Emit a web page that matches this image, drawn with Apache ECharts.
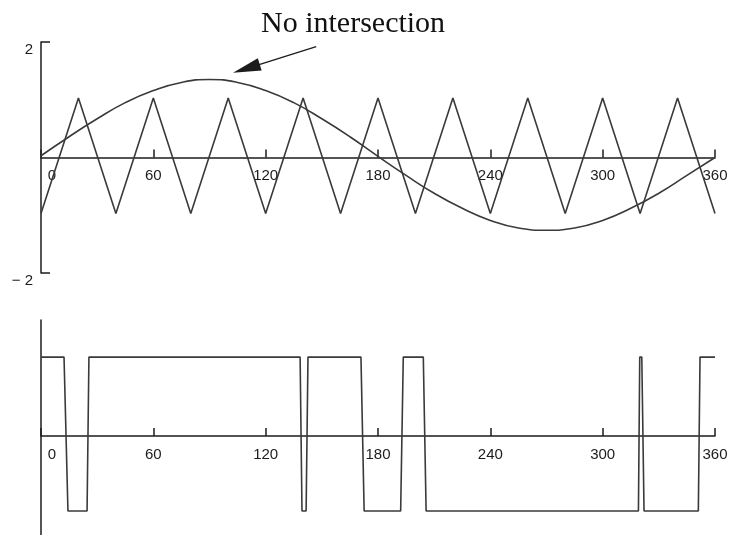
<!DOCTYPE html>
<html>
<head>
<meta charset="utf-8">
<title>No intersection</title>
<script src="https://cdn.jsdelivr.net/npm/echarts@6/dist/echarts.min.js"></script>
<style>
  html, body { margin: 0; padding: 0; background: #fff; }
  #chart { width: 736px; height: 535px; }
</style>
</head>
<body>
<div id="chart"></div>
<script>
const sineDeg = [0, 15, 30, 45, 60, 75, 90, 105, 120, 135, 150, 165, 180, 195, 210, 225, 240, 255, 270, 285, 300, 315, 330, 345, 360];
const sineVal = [0.03, 0.36, 0.67, 0.95, 1.16, 1.30, 1.35, 1.30, 1.16, 0.95, 0.67, 0.36, 0.02, -0.31, -0.62, -0.88, -1.09, -1.22, -1.26, -1.22, -1.09, -0.88, -0.62, -0.31, 0.0];

// carrier triangle, vertices
const triDeg = [0, 20, 40, 60, 80, 100, 120, 140, 160, 180, 200, 220, 240, 260, 280, 300, 320, 340, 360];
const triVal = [-0.97, 1.03, -0.97, 1.03, -0.97, 1.03, -0.97, 1.03, -0.97, 1.03, -0.97, 1.03, -0.97, 1.03, -0.97, 1.03, -0.97, 1.03, -0.97];

// switching output (edges)
const pwmDeg = [0, 12.3, 14.4, 24.6, 25.6, 138.4, 139.4, 141.6, 142.6, 170.9, 172.6, 192.1, 193.5, 204.2, 205.7, 319.1, 319.8, 320.9, 322.1, 351.1, 352.0, 360];
const pwmVal = [1.02, 1.02, -0.97, -0.97, 1.02, 1.02, -0.97, -0.97, 1.02, 1.02, -0.97, -0.97, 1.02, 1.02, -0.97, -0.97, 1.02, 1.02, -0.97, -0.97, 1.02, 1.02];

const xMin = 0, xMax = 360, xStep = 60;
const yTopMin = -2, yTopMax = 2;
const yLowMin = -1.28, yLowMax = 1.5;

// arrow of the annotation, in data units (tail -> head centre)
const arrowFrom = [147, 1.92];
const arrowTo = [109.7, 1.54];
const noteText = 'No intersection';

const ink = '#1c1c1c';
const lineInk = '#3a3a3a';
const tickFont = '"Liberation Sans", "DejaVu Sans", sans-serif';

const zip = (xs, ys) => xs.map((x, i) => [x, ys[i]]);

// grid boxes in px; x axis has to sit on y = 0, so shift it up from the bottom edge
const grids = [
  { left: 41, right: 21, top: 42, height: 231, yMin: yTopMin, yMax: yTopMax },
  { left: 41, right: 21, top: 320, height: 215, yMin: yLowMin, yMax: yLowMax },
];
const zeroShift = (g) => -g.height * (0 - g.yMin) / (g.yMax - g.yMin);

function xAxisFor(gridIndex) {
  return {
    type: 'value',
    gridIndex,
    min: xMin,
    max: xMax,
    interval: xStep,
    offset: zeroShift(grids[gridIndex]),
    axisLine: { onZero: false, lineStyle: { color: ink, width: 1.5 } },
    axisTick: { inside: true, length: 8, lineStyle: { color: ink, width: 1.5 } },
    axisLabel: {
      margin: 11,
      fontSize: 15,
      color: ink,
      fontFamily: tickFont,
      formatter: (v) => (v === 0 ? '{z|0}' : String(v)),
      rich: { z: { padding: [0, 0, 0, 22], fontSize: 15, color: ink, fontFamily: tickFont } },
    },
    splitLine: { show: false },
  };
}

const chart = echarts.init(document.getElementById('chart'), null, { renderer: 'canvas' });

chart.setOption({
  animation: false,
  backgroundColor: '#fff',
  grid: grids.map((g) => ({ left: g.left, right: g.right, top: g.top, height: g.height, outerBoundsMode: 'none', containLabel: false })),
  xAxis: [xAxisFor(0), xAxisFor(1)],
  yAxis: [
    {
      type: 'value',
      gridIndex: 0,
      min: yTopMin,
      max: yTopMax,
      interval: yTopMax - yTopMin,
      axisLine: { show: true, onZero: false, lineStyle: { color: ink, width: 1.5 } },
      axisTick: { show: true, inside: true, length: 9, lineStyle: { color: ink, width: 1.5 } },
      axisLabel: {
        margin: 8,
        fontSize: 15,
        color: ink,
        fontFamily: tickFont,
        verticalAlign: 'top',
        formatter: (v) => (v < 0 ? '\u2212 2' : String(v)),
      },
      splitLine: { show: false },
    },
    {
      type: 'value',
      gridIndex: 1,
      min: yLowMin,
      max: yLowMax,
      axisLine: { show: true, onZero: false, lineStyle: { color: ink, width: 1.5 } },
      axisTick: { show: false },
      axisLabel: { show: false },
      splitLine: { show: false },
    },
  ],
  graphic: [
    {
      type: 'text',
      left: 261,
      top: 9,
      style: {
        text: noteText,
        font: '30px "Liberation Serif", "DejaVu Serif", serif',
        fill: '#111',
      },
    },
  ],
  series: [
    {
      name: 'carrier',
      type: 'line',
      xAxisIndex: 0,
      yAxisIndex: 0,
      data: zip(triDeg, triVal),
      showSymbol: false,
      lineStyle: { color: lineInk, width: 1.6 },
    },
    {
      name: 'sine',
      type: 'line',
      xAxisIndex: 0,
      yAxisIndex: 0,
      data: zip(sineDeg, sineVal),
      smooth: true,
      showSymbol: false,
      lineStyle: { color: lineInk, width: 1.6 },
      markLine: {
        silent: true,
        symbol: ['none', 'triangle'],
        symbolSize: [13, 28],
        label: { show: false },
        lineStyle: { color: ink, width: 1.3, type: 'solid' },
        data: [[{ coord: arrowFrom }, { coord: arrowTo }]],
      },
    },
    {
      name: 'pwm',
      type: 'line',
      xAxisIndex: 1,
      yAxisIndex: 1,
      data: zip(pwmDeg, pwmVal),
      showSymbol: false,
      lineStyle: { color: lineInk, width: 1.6 },
    },
  ],
});
</script>
</body>
</html>
